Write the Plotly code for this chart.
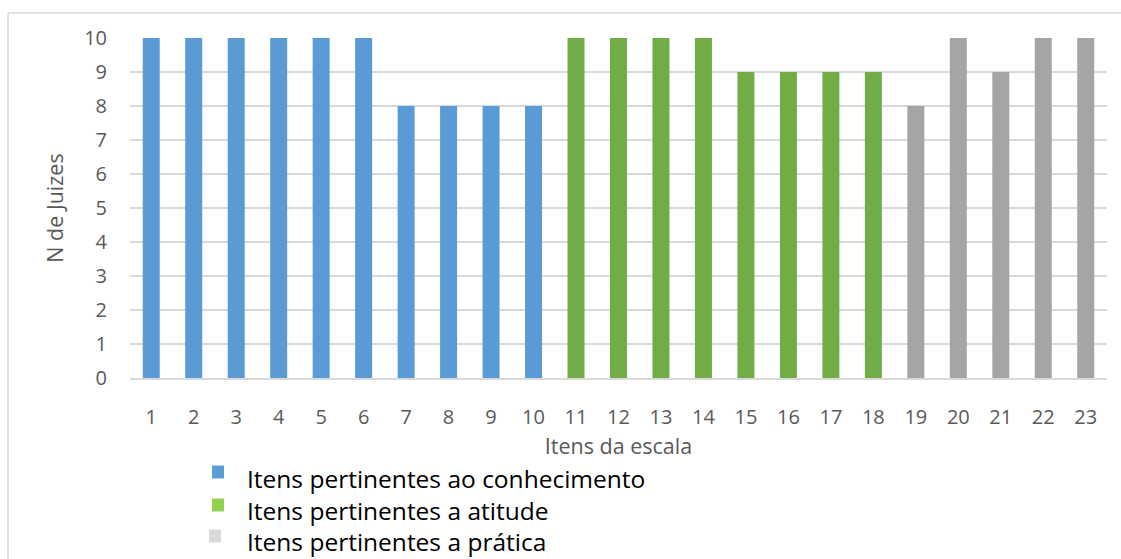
import plotly.graph_objects as go

# Number of judges who rated each scale item as pertinent
itens = [str(i) for i in range(1, 24)]
n_juizes = [10, 10, 10, 10, 10, 10, 8, 8, 8, 8,
            10, 10, 10, 10, 9, 9, 9, 9,
            8, 10, 9, 10, 10]
dominio = (["conhecimento"] * 10) + (["atitude"] * 8) + (["pratica"] * 5)

cores_barras = {"conhecimento": "#5B9BD5", "atitude": "#70AD47", "pratica": "#A5A5A5"}
legenda_textos = ["Itens pertinentes ao conhecimento",
                  "Itens pertinentes a atitude",
                  "Itens pertinentes a prática"]
legenda_cores = ["#5B9BD5", "#92D050", "#D9D9D9"]

FONT = "Open Sans, Noto Sans, DejaVu Sans, sans-serif"
W, H = 1121, 559
M_L, M_R, M_T, M_B = 130, 14, 38, 181
PLOT_W = W - M_L - M_R
PLOT_H = H - M_T - M_B


def px_x(px):
    """Pixel column -> paper x."""
    return (px - M_L) / PLOT_W


def px_y(py):
    """Pixel row -> paper y."""
    return (H - M_B - py) / PLOT_H


fig = go.Figure()
fig.add_trace(go.Bar(
    x=itens, y=n_juizes,
    marker=dict(color=[cores_barras[d] for d in dominio], line=dict(width=0)),
    showlegend=False,
))

# Chart frame (top and left edges visible)
fig.add_shape(type="line", xref="paper", yref="paper",
              x0=px_x(8), x1=px_x(W + 10), y0=px_y(13), y1=px_y(13),
              line=dict(color="#D9D9D9", width=1.5))
fig.add_shape(type="line", xref="paper", yref="paper",
              x0=px_x(8), x1=px_x(8), y0=px_y(13), y1=px_y(H + 10),
              line=dict(color="#D9D9D9", width=1.5))

# Legend below the axis title: swatch + label per domain
swatch_x = [212, 212, 209]
swatch_y = [472, 505, 536]
texto_y = [478, 510, 541]
for texto, cor, sx, sy, ty in zip(legenda_textos, legenda_cores, swatch_x, swatch_y, texto_y):
    fig.add_shape(type="rect", xref="paper", yref="paper",
                  x0=px_x(sx), x1=px_x(sx + 12), y0=px_y(sy - 6.5), y1=px_y(sy + 6.5),
                  fillcolor=cor, line=dict(width=0))
    fig.add_annotation(xref="paper", yref="paper", x=px_x(246), y=px_y(ty),
                       xanchor="left", yanchor="middle", showarrow=False, borderpad=0,
                       text=texto, font=dict(size=24.5, color="#000000", family=FONT))

fig.update_layout(
    width=W, height=H,
    margin=dict(l=M_L, r=M_R, t=M_T, b=M_B),
    paper_bgcolor="white", plot_bgcolor="white",
    bargap=0.6, showlegend=False,
    font=dict(family=FONT, color="#595959"),
    xaxis=dict(
        type="category", showgrid=False, showline=True, automargin=False,
        tickmode="array", tickvals=itens, ticktext=itens,
        linecolor="#D9D9D9", linewidth=1.5, ticks="", ticklabelstandoff=20,
        tickfont=dict(size=20, color="#595959"),
        title=dict(text="Itens da escala", font=dict(size=21.5, color="#595959"), standoff=10),
    ),
    yaxis=dict(
        range=[0, 10], dtick=1, showgrid=True, gridcolor="#D9D9D9", gridwidth=1.5,
        zeroline=False, showline=False, ticks="", automargin=False, ticklabelstandoff=22,
        tickfont=dict(size=20, color="#595959"),
        title=dict(text="N de Juizes", font=dict(size=21.5, color="#595959"), standoff=14),
    ),
)

fig.write_html("out.html")
